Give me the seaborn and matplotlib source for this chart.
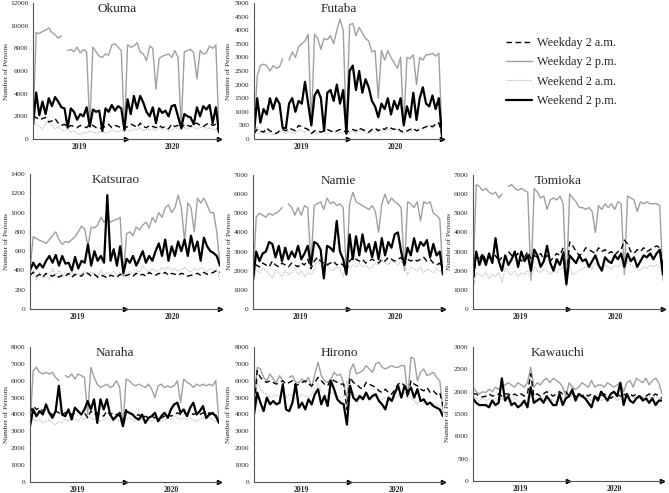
import numpy as np
import pandas as pd
import seaborn as sns
import matplotlib
matplotlib.use("Agg")
import matplotlib.pyplot as plt
from matplotlib.lines import Line2D

nan = np.nan

series_names = ["Weekday 2 a.m.", "Weekday 2 p.m.", "Weekend 2 a.m.", "Weekend 2 p.m."]
towns = ["Okuma", "Futaba", "Katsurao", "Namie", "Tomioka", "Naraha", "Hirono", "Kawauchi"]
year_labels = ["2019", "2020"]
y_max = {"Okuma": 12000, "Futaba": 5000, "Katsurao": 1400, "Namie": 7000,
         "Tomioka": 7000, "Naraha": 8000, "Hirono": 8000, "Kawauchi": 3000}
y_step = {"Okuma": 2000, "Futaba": 500, "Katsurao": 200, "Namie": 1000,
          "Tomioka": 1000, "Naraha": 1000, "Hirono": 1000, "Kawauchi": 500}

# ---------------- Okuma ----------------
okuma_wd_am = [2000, 1900, 1700, 1800, 1900, 1500, 1600, 1800, 1400, 1200,
               1300, 1000, 1200, 1100, 1000, 1200, 1100, 1000, 1300, 1200,
               1000, 900, 1000, 1100, 1300, 1000, 1200, 1100, 1000, 900,
               1100, 1300, 1200, 1000, 1400, 1100, 1000, 1200, 1100, 1000,
               1200, 1000, 1100, 900, 1300, 1100, 1200, 900, 1300, 1200,
               1100, 1300, 1400, 1200, 1100, 1300, 1400, 1200, 1300, 600]
okuma_wd_pm = [1200, 9400, 9300, 9500, 9600, 9800, 9400, 9200, 8900, 9100,
               nan, 7800, 7900, 7700, 8100, 7600, 7900, 7700, 1200, 8100,
               7700, 7300, 7200, 7500, 7400, 8300, 8400, 8100, 7800, 700,
               8300, 8100, 8200, 8500, 7700, 7500, 6900, 8200, 8000, 4400,
               7100, 7300, 7400, 7500, 7200, 7800, 7200, 1000, 7700, 7800,
               7900, 7600, 5300, 7800, 7500, 7600, 8200, 8000, 8300, 600]
okuma_we_am = [1500, 1300, 1100, 900, 1300, 1600, 1200, 900, 1100, 800,
               700, 800, 600, 700, 500, 400, 600, 500, 700, 600,
               500, 600, 700, 500, 600, 800, 700, 600, 800, 600,
               800, 700, 900, 800, 1000, 700, 900, 800, 900, 700,
               1000, 800, 900, 700, 800, 1000, 900, 800, 1000, 900,
               1100, 1000, 900, 1000, 1100, 900, 1000, 800, 900, 500]
okuma_we_pm = [1200, 4100, 2100, 3300, 2200, 3600, 2900, 3700, 3300, 2800,
               2700, 1000, 2700, 2400, 1700, 2200, 2000, 2800, 1100, 2600,
               2400, 2500, 700, 2700, 2400, 3000, 2500, 2900, 2700, 800,
               3500, 2200, 3800, 2700, 3800, 3200, 2400, 2000, 2800, 1400,
               2700, 2300, 2500, 2000, 2900, 3000, 2000, 1000, 2200, 2000,
               1900, 1300, 2800, 2000, 2900, 2600, 3000, 1400, 2800, 600]

# ---------------- Futaba ----------------
futaba_wd_am = [200, 350, 300, 250, 400, 300, 250, 200, 300, 350,
                300, 400, 350, 300, 500, 450, 400, 350, 200, 300,
                300, 250, 300, 350, 300, 250, 300, 350, 300, 250,
                300, 350, 300, 400, 350, 300, 250, 350, 400, 300,
                400, 350, 450, 400, 350, 400, 300, 250, 300, 350,
                400, 300, 350, 400, 450, 500, 450, 550, 600, 150]
futaba_wd_pm = [200, 2300, 2700, 2750, 2700, 2500, 2700, 2600, 2650, 2950,
                nan, 2900, 3200, 3000, 3400, 3500, 3600, 3850, 500, 3850,
                3700, 3300, 3700, 3650, 3800, 3500, 4000, 4400, 4000, 200,
                4200, 4250, 3800, 4100, 3900, 3700, 3600, 3200, 3250, 1500,
                3250, 2900, 3250, 3000, 2800, 2600, 3000, 500, 3000, 2950,
                3100, 2000, 3000, 2900, 3100, 3100, 3150, 3050, 3150, 100]
futaba_we_am = [150, 450, 200, 300, 200, 250, 150, 200, 250, 300,
                200, 300, 250, 200, 350, 300, 250, 350, 200, 250,
                200, 300, 250, 200, 250, 300, 200, 250, 200, 150,
                250, 300, 200, 350, 300, 250, 200, 300, 250, 350,
                300, 250, 350, 300, 400, 350, 250, 200, 300, 250,
                350, 300, 400, 350, 450, 500, 400, 500, 600, 200]
futaba_we_pm = [200, 1500, 600, 1100, 900, 1500, 1100, 1500, 1300, 400,
                400, 1300, 1500, 1000, 1400, 1300, 2100, 1300, 500, 1600,
                1800, 1500, 300, 1700, 1800, 1400, 2000, 1300, 1800, 200,
                2500, 2700, 1800, 2500, 1700, 2200, 1900, 1400, 1200, 800,
                1300, 1100, 1500, 900, 1400, 1100, 1500, 500, 1200, 800,
                1700, 700, 1500, 1900, 1300, 1200, 1600, 1100, 1500, 100]

# ---------------- Katsurao ----------------
katsurao_wd_am = [350, 380, 340, 360, 330, 370, 350, 340, 360, 330,
                  350, 340, 370, 330, 360, 350, 340, 380, 370, 340,
                  360, 330, 350, 340, 320, 350, 340, 330, 360, 340,
                  350, 360, 340, 370, 350, 360, 340, 380, 360, 350,
                  370, 360, 380, 350, 370, 360, 350, 370, 360, 340,
                  350, 360, 370, 350, 380, 360, 370, 380, 400, 380]
katsurao_wd_pm = [400, 750, 730, 710, 700, 680, 720, 760, 800, 720,
                  670, 700, 690, 720, 750, 800, 860, 830, 650, 850,
                  840, 870, 950, 900, 950, 900, 920, 930, 950, 350,
                  780, 800, 760, 850, 820, 870, 900, 840, 950, 900,
                  1000, 950, 1050, 1080, 1000, 1050, 1180, 1050, 700, 1100,
                  1050, 800, 1150, 1100, 1150, 1080, 1000, 1000, 800, 450]
katsurao_we_am = [320, 400, 300, 380, 320, 360, 300, 420, 350, 400,
                  330, 380, 350, 390, 340, 370, 360, 400, 350, 380,
                  360, 340, 400, 350, 380, 360, 390, 350, 380, 330,
                  370, 390, 360, 400, 380, 450, 400, 380, 420, 390,
                  400, 430, 410, 440, 400, 420, 390, 410, 430, 400,
                  380, 420, 400, 430, 410, 390, 420, 400, 410, 300]
katsurao_we_pm = [400, 480, 420, 470, 430, 500, 550, 480, 560, 450,
                  550, 470, 480, 400, 540, 420, 500, 480, 670, 450,
                  600, 500, 550, 480, 1180, 500, 620, 450, 650, 370,
                  520, 480, 550, 450, 520, 600, 480, 550, 500, 600,
                  680, 550, 720, 500, 650, 550, 700, 600, 720, 550,
                  760, 600, 700, 500, 740, 650, 600, 580, 550, 450]

# ---------------- Namie ----------------
namie_wd_am = [1800, 2300, 2200, 2400, 2300, 2200, 2500, 2300, 2200, 2400,
               2300, 2200, 2400, 2300, 2200, 2400, 2300, 2600, 2100, 2500,
               2700, 2500, 2400, 2300, 2400, 2500, 2300, 2400, 2300, 2000,
               2500, 2700, 2600, 2500, 2600, 2400, 2500, 2600, 2500, 2400,
               2600, 2500, 2700, 2600, 2500, 2600, 2700, 2300, 2600, 2500,
               2600, 2500, 2600, 2700, 2500, 2600, 2400, 2300, 2400, 1900]
namie_wd_pm = [1400, 4800, 5000, 4900, 4800, 5000, 4900, 5000, 5100, 5300,
               nan, 5500, 5300, 4900, 5300, 4900, 5400, 5300, 2300, 5400,
               5500, 5600, 5200, 5800, 5500, 5600, 5400, 5500, 5300, 1800,
               5500, 6100, 5600, 5500, 5400, 5300, 5200, 5400, 5100, 4000,
               5500, 6000, 5500, 5800, 5600, 5500, 5300, 2000, 5600, 5500,
               5300, 5600, 4600, 5600, 5500, 5600, 5000, 4900, 4700, 1800]
namie_we_am = [1400, 2000, 1900, 2100, 2000, 1800, 1600, 2000, 1900, 1700,
               2000, 1800, 1900, 2100, 1800, 2000, 1700, 1900, 1800, 2000,
               2600, 2300, 2200, 2400, 2100, 2000, 2200, 2100, 1700, 2300,
               2100, 2300, 2200, 2400, 2200, 2300, 2100, 2200, 2400, 2300,
               2500, 2400, 2300, 2500, 2400, 2300, 2500, 2300, 1800, 2200,
               2100, 2000, 2200, 1900, 2100, 2000, 1900, 2100, 2000, 1800]
namie_we_pm = [1500, 3000, 2500, 2900, 3000, 3500, 3400, 2700, 3300, 2500,
               3200, 2600, 3000, 2700, 3300, 2600, 2900, 3300, 2300, 3500,
               3400, 3100, 1600, 3300, 3200, 3000, 4600, 3000, 2600, 1800,
               3900, 2600, 3800, 2800, 3900, 3000, 3400, 2700, 3500, 2600,
               3700, 2800, 3500, 3200, 3900, 4000, 3000, 2300, 3200, 2800,
               3700, 3000, 3500, 3300, 3600, 2700, 3400, 2800, 3000, 1800]

# ---------------- Tomioka ----------------
tomioka_wd_am = [1200, 2800, 2600, 2900, 2500, 2700, 2600, 2800, 2500, 2700,
                 nan, 3000, 2800, 2700, 2900, 2500, 2700, 3000, 2600, 2800,
                 2700, 2900, 2600, 2800, 2500, 2700, 2900, 2800, 3200, 1500,
                 3500, 3300, 3000, 2800, 2900, 3200, 3100, 3000, 2900, 3200,
                 3000, 3100, 2900, 3000, 2800, 3000, 3100, 3600, 3400, 3000,
                 2900, 3100, 3000, 3200, 3000, 3100, 3200, 3300, 3200, 2200]
tomioka_wd_pm = [1500, 6500, 6400, 6200, 6300, 6100, 6000, 6100, 5800, 6000,
                 nan, 6400, 6500, 6300, 6200, 6300, 6200, 6100, 1500, 6300,
                 6100, 5800, 5900, 5200, 5700, 5800, 5700, 5900, 5500, 1200,
                 6000, 5800, 5600, 5300, 5300, 5200, 5300, 5100, 4000, 5400,
                 5200, 5500, 5300, 5500, 5200, 5600, 5500, 1800, 5900, 5800,
                 5700, 5100, 5600, 5500, 5600, 5500, 5500, 5500, 5400, 1500]
tomioka_we_am = [1000, 1900, 1800, 1700, 1900, 1600, 1800, 1700, 1900, 1400,
                 2100, 1900, 1800, 2000, 1700, 1900, 1800, 2000, 1600, 2200,
                 2000, 1900, 2100, 2000, 1800, 2000, 1900, 2100, 2200, 1200,
                 2200, 1800, 1900, 2000, 2100, 2200, 2300, 2100, 2400, 2200,
                 2100, 2300, 2200, 2100, 2300, 2200, 2400, 1900, 2500, 2300,
                 2200, 2100, 2000, 2200, 2100, 2300, 2200, 2300, 2200, 1600]
tomioka_we_pm = [1600, 3000, 2300, 2800, 2300, 2900, 2400, 3700, 2500, 2000,
                 2800, 2300, 2600, 3000, 2200, 3000, 2500, 2800, 2000, 3100,
                 2800, 2200, 2500, 3300, 2400, 2000, 2600, 2300, 2900, 1300,
                 2800, 2600, 2400, 2800, 2500, 2600, 2200, 2500, 2800, 2300,
                 2000, 2700, 2500, 2400, 2800, 2600, 2900, 2200, 2900, 2500,
                 2700, 2200, 2500, 2800, 2700, 2900, 2600, 2900, 3100, 1800]

# ---------------- Naraha ----------------
naraha_wd_am = [4100, 4500, 4300, 4400, 4200, 4300, 4100, 4000, 4200, 4100,
                4000, 4100, 4200, 4000, 4100, 4200, 4000, 4100, 3800, 4200,
                4000, 4100, 4000, 3900, 4200, 4000, 4100, 4000, 3900, 3600,
                4300, 4100, 4000, 3900, 4000, 3800, 3900, 3800, 3900, 3800,
                3900, 3800, 3900, 4000, 3900, 4000, 4100, 4000, 4100, 4000,
                4100, 4000, 4100, 4000, 4100, 4000, 4100, 4000, 4000, 3500]
naraha_wd_pm = [3300, 6600, 6800, 6500, 6400, 6500, 6400, 6500, 6200, 6000,
                nan, 6300, 6200, 6400, 6100, 6400, 6300, 6200, 4000, 6800,
                6200, 5800, 5600, 5700, 5800, 5600, 5700, 6000, 5600, 3300,
                6100, 6000, 5800, 5700, 5800, 5700, 5600, 5800, 5500, 5000,
                5700, 5800, 5600, 5700, 5600, 5700, 6000, 4700, 6100, 5900,
                5800, 5600, 5800, 5700, 5800, 5700, 5800, 5700, 6000, 3500]
naraha_we_am = [3500, 3700, 3600, 3700, 3500, 3600, 3700, 3500, 3400, 3600,
                3500, 3700, 3600, 3800, 3700, 3600, 3800, 3700, 3900, 3800,
                3700, 3800, 3600, 3700, 3800, 3700, 3600, 3700, 3600, 3400,
                3700, 3800, 3700, 3600, 3700, 3800, 3600, 3700, 3600, 3800,
                3700, 3600, 3700, 3800, 3700, 3900, 3800, 3700, 3800, 3700,
                3800, 3700, 3600, 3700, 3800, 3700, 3800, 3700, 3600, 3600]
naraha_we_pm = [3300, 4300, 3900, 4200, 4000, 4600, 4100, 3800, 4200, 5700,
                4000, 3900, 4300, 3700, 4400, 4200, 4000, 4300, 4800, 4300,
                4900, 3500, 4900, 4300, 4900, 4000, 3700, 3900, 4100, 3300,
                4200, 4100, 4000, 3800, 3700, 4000, 3500, 3800, 3900, 4100,
                3600, 3900, 4100, 3800, 4300, 4600, 4700, 4100, 4300, 3900,
                4400, 4700, 4000, 4200, 4500, 3800, 4000, 4100, 3900, 3500]

# ---------------- Hirono ----------------
hirono_wd_am = [4200, 6600, 6200, 6000, 5900, 6000, 5900, 5800, 5900, 6000,
                5800, 5900, 6000, 5700, 5800, 5900, 6000, 5800, 5700, 5900,
                6200, 6000, 5800, 5700, 6100, 6000, 5900, 5800, 5800, 4300,
                6200, 5900, 5800, 5600, 5500, 5900, 5800, 5700, 5600, 5400,
                5300, 5500, 5300, 5200, 5500, 5800, 5900, 5700, 5000, 6000,
                5800, 5700, 5500, 5400, 5600, 5300, 5400, 5200, 5300, 4500]
hirono_wd_pm = [4500, 6800, 6700, 6200, 6000, 6400, 6100, 5900, 6300, 6000,
                nan, 6200, 6300, 5900, 5900, 6100, 5900, 6200, 5600, 6400,
                7100, 6300, 6000, 5900, 6100, 6500, 6300, 6400, 5800, 5000,
                6600, 7000, 6400, 6500, 6600, 6900, 6700, 6500, 7000, 7100,
                6800, 6700, 6800, 6900, 6800, 6800, 6900, 6900, 5000, 7400,
                7300, 6000, 6500, 6700, 6300, 6400, 6500, 6200, 6000, 4200]
hirono_we_am = [4000, 6000, 5500, 5300, 5200, 5000, 5100, 5200, 5000, 5100,
                5000, 5200, 5100, 4900, 5000, 5200, 5100, 5000, 5200, 5500,
                5800, 5400, 5200, 5100, 5300, 5200, 5100, 5000, 5100, 6000,
                5400, 5300, 5000, 4900, 5100, 5000, 4900, 5100, 5000, 4800,
                4900, 5000, 4800, 4900, 5000, 5100, 5200, 5300, 5500, 5000,
                4800, 4600, 4900, 4700, 4800, 4600, 4700, 4600, 4500, 4500]
hirono_we_pm = [4000, 5300, 4700, 4200, 5000, 4600, 4800, 4600, 4700, 5800,
                4300, 4200, 4700, 5800, 4400, 4700, 4300, 4900, 4600, 5200,
                5500, 4600, 5100, 4500, 6000, 5500, 4900, 4700, 4600, 3400,
                5700, 5000, 4800, 5100, 4900, 5300, 4900, 5100, 5200, 4800,
                4600, 4300, 5000, 4800, 5300, 5700, 5000, 5700, 5300, 5600,
                5000, 5500, 4800, 4900, 4600, 4700, 4500, 4400, 4300, 3900]

# ---------------- Kawauchi ----------------
kawauchi_wd_am = [1950, 1950, 1900, 1880, 1900, 1950, 1900, 1920, 1950, 1900,
                  1950, 1950, 1900, 1950, 1900, 1950, 1900, 1950, 2400, 1900,
                  1950, 1900, 1950, 2000, 1950, 1900, 1950, 2000, 1950, 2000,
                  1900, 1950, 1900, 1950, 1900, 1950, 1900, 1950, 1900, 1850,
                  1900, 1950, 1900, 1850, 1900, 1950, 1900, 1950, 1900, 1950,
                  1900, 1950, 1900, 1850, 1900, 1950, 1900, 1950, 1900, 1850]
kawauchi_wd_pm = [2100, 2000, 1950, 2000, 1980, 2050, 2000, 2100, 2050, 2100,
                  2150, 2200, 2150, 2100, 2200, 2150, 2100, 2200, 2550, 2100,
                  2200, 2150, 2250, 2300, 2200, 2300, 2250, 2200, 2100, 1900,
                  2200, 2100, 2050, 2100, 2200, 2150, 2100, 2250, 2100, 2150,
                  2150, 2100, 2200, 2150, 2100, 2150, 2200, 2000, 2200, 2250,
                  2100, 2300, 2250, 2200, 2300, 2150, 2250, 2300, 2200, 1950]
kawauchi_we_am = [1900, 1850, 1800, 1850, 1800, 1850, 1800, 1850, 1800, 1850,
                  1800, 1850, 1800, 1850, 1800, 1750, 1800, 1850, 2000, 1800,
                  1850, 1800, 1850, 1800, 1850, 1800, 1750, 1800, 1850, 1900,
                  1850, 1900, 1850, 1900, 1850, 1900, 1850, 1800, 1900, 1850,
                  1800, 1850, 1900, 1850, 1900, 1800, 1850, 1900, 1850, 1900,
                  1850, 1900, 1850, 1900, 1850, 1900, 1850, 1900, 1850, 1800]
kawauchi_we_pm = [1850, 1750, 1700, 1700, 1700, 1650, 1800, 1700, 1750, 2300,
                  1800, 1900, 1700, 1750, 1650, 1700, 1800, 1650, 2100, 1750,
                  1800, 1850, 1750, 1900, 1800, 1700, 1700, 1950, 1700, 1850,
                  1900, 2050, 1800, 1950, 1900, 1850, 1750, 1650, 1900, 1800,
                  2000, 1900, 1800, 1950, 2000, 1900, 2200, 1700, 1950, 1800,
                  1750, 1850, 1900, 1800, 1850, 1750, 1850, 1700, 1800, 1800]

town_data = {
    "Okuma": [okuma_wd_am, okuma_wd_pm, okuma_we_am, okuma_we_pm],
    "Futaba": [futaba_wd_am, futaba_wd_pm, futaba_we_am, futaba_we_pm],
    "Katsurao": [katsurao_wd_am, katsurao_wd_pm, katsurao_we_am, katsurao_we_pm],
    "Namie": [namie_wd_am, namie_wd_pm, namie_we_am, namie_we_pm],
    "Tomioka": [tomioka_wd_am, tomioka_wd_pm, tomioka_we_am, tomioka_we_pm],
    "Naraha": [naraha_wd_am, naraha_wd_pm, naraha_we_am, naraha_we_pm],
    "Hirono": [hirono_wd_am, hirono_wd_pm, hirono_we_am, hirono_we_pm],
    "Kawauchi": [kawauchi_wd_am, kawauchi_wd_pm, kawauchi_we_am, kawauchi_we_pm],
}

# ---------------- styling ----------------
sns.set_theme(style="white")
plt.rcParams["font.family"] = ["Liberation Serif", "DejaVu Serif"]

styles = {
    "Weekday 2 a.m.": dict(color="black", linewidth=1.0, dashes=(4, 2.5)),
    "Weekday 2 p.m.": dict(color="#a0a0a0", linewidth=1.0),
    "Weekend 2 a.m.": dict(color="#b8b8b8", linewidth=0.8, dashes=(1, 1)),
    "Weekend 2 p.m.": dict(color="black", linewidth=1.6),
}
draw_order = ["Weekday 2 p.m.", "Weekend 2 a.m.", "Weekday 2 a.m.", "Weekend 2 p.m."]

W, H = 669, 493
fig = plt.figure(figsize=(W / 100, H / 100), dpi=100)

# axes boxes in pixels: left, right, top, bottom, y-label right edge
boxes = {
    "Okuma": (33, 219, 3, 139, 9),
    "Futaba": (254, 442, 3, 139, 231),
    "Katsurao": (30, 220, 174, 309, 9),
    "Namie": (253, 443, 175, 309, 232),
    "Tomioka": (473, 663, 175, 309, 452),
    "Naraha": (30, 219, 347, 482, 9),
    "Hirono": (254, 443, 347, 482, 231),
    "Kawauchi": (473, 662, 347, 481, 450),
}

for town in towns:
    l, r, t, b, yl = boxes[town]
    ax = fig.add_axes([l / W, 1 - b / H, (r - l) / W, (b - t) / H])
    vals = town_data[town]
    for name in draw_order:
        v = np.array(vals[series_names.index(name)], dtype=float)
        n = len(v)
        seg = np.cumsum(np.isnan(v))
        df = pd.DataFrame({"week": np.arange(n), "value": v, "seg": seg}).dropna()
        st = dict(styles[name])
        dashes = st.pop("dashes", None)
        sns.lineplot(data=df, x="week", y="value", units="seg", estimator=None,
                     ax=ax, legend=False, **st)
        if dashes is not None:
            for ln in ax.lines[-len(df["seg"].unique()):]:
                ln.set_dashes(dashes)
    n = len(vals[0])
    ax.set_xlim(0, n - 1)
    ax.set_ylim(0, y_max[town])
    ax.set_yticks(np.arange(0, y_max[town] + 1, y_step[town]))
    ax.tick_params(axis="y", labelsize=5.3, length=0, pad=3.5)
    ax.set_xticks([(n - 1) * 0.25, (n - 1) * 0.75])
    ax.set_xticklabels(year_labels, fontsize=5.5, fontweight="bold")
    ax.tick_params(axis="x", length=0, pad=3)
    ax.set_xlabel("")
    ax.set_ylabel("Number of Persons", fontsize=5.3)
    ax.yaxis.set_label_coords((yl - l) / (r - l), 0.5)
    for s in ["top", "right"]:
        ax.spines[s].set_visible(False)
    for s in ["left", "bottom"]:
        ax.spines[s].set_color("#555555")
        ax.spines[s].set_linewidth(0.8)
    ax.grid(False)
    # arrowheads on the time axis (mid-point and end)
    ax.plot([(n - 1) * 0.5, n - 1], [0, 0], linestyle="none", marker=">",
            markersize=3, color="black", clip_on=False,
            transform=ax.get_xaxis_transform())
    ax.text(0.45, 1.0, town, transform=ax.transAxes, ha="center", va="top",
            fontsize=9.5)

handles = [Line2D([0], [0], **{k: v for k, v in styles[nm].items()})
           for nm in series_names]
fig.legend(handles, series_names, loc="upper left",
           bbox_to_anchor=(506 / W, 1 - 37 / H), frameon=False,
           fontsize=8.8, handlelength=2.1, handletextpad=0.45,
           labelspacing=0.6, borderpad=0, borderaxespad=0)

fig.savefig("out.png", dpi=100)
